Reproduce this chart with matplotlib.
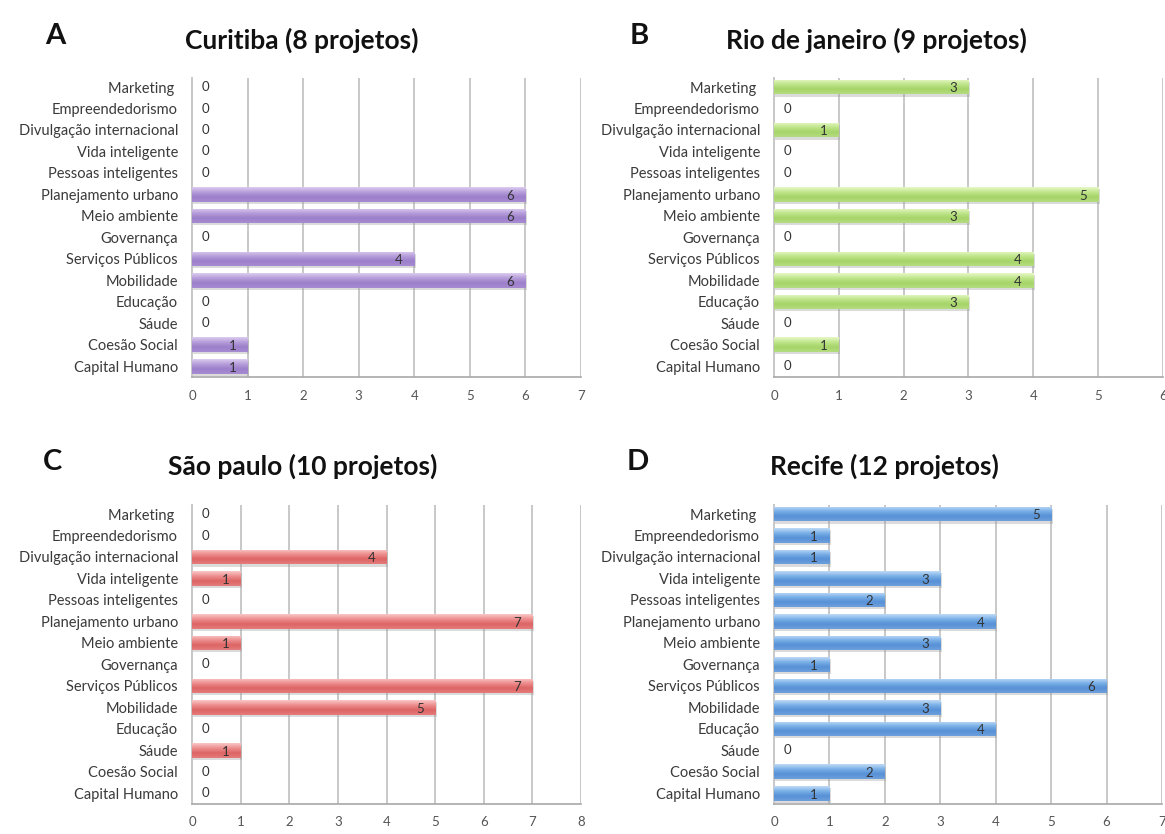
import numpy as np
import matplotlib
matplotlib.use("Agg")
import matplotlib.pyplot as plt
from matplotlib.colors import LinearSegmentedColormap
from matplotlib.transforms import ScaledTranslation

plt.rcParams["font.family"] = ["Lato", "DejaVu Sans"]

categories = [
    "Marketing ", "Empreendedorismo", "Divulgação internacional", "Vida inteligente",
    "Pessoas inteligentes", "Planejamento urbano", "Meio ambiente", "Governança",
    "Serviços Públicos", "Mobilidade", "Educação", "Sáude", "Coesão Social", "Capital Humano",
]

curitiba = [0, 0, 0, 0, 0, 6, 6, 0, 4, 6, 0, 0, 1, 1]
rio = [3, 0, 1, 0, 0, 5, 3, 0, 4, 4, 3, 0, 1, 0]
sao_paulo = [0, 0, 4, 1, 0, 7, 1, 0, 7, 5, 0, 1, 0, 0]
recife = [5, 1, 1, 3, 2, 4, 3, 1, 6, 3, 4, 0, 2, 1]

titles = ["Curitiba (8 projetos)", "Rio de janeiro (9 projetos)",
          "São paulo (10 projetos)", "Recife (12 projetos)"]
letters = ["A", "B", "C", "D"]
xmax = [7, 6, 8, 7]

# light top -> base -> darker -> slightly lighter bottom edge
palettes = [
    ["#dccdf0", "#b69dda", "#9c7fca", "#a88cd2"],
    ["#e8f8c8", "#c0e68c", "#a6d468", "#b4dc80"],
    ["#f9c8c8", "#ee8e8e", "#dd6464", "#e47c7c"],
    ["#c0dbf5", "#7ab0e7", "#5690d6", "#6ea0dc"],
]

# figure-pixel layout: axes box (left, right, top, bottom), title centre, letter position
W, H = 1165, 834
boxes = [(192, 581, 78, 377), (774, 1163, 78, 377),
         (192, 581, 505, 804), (774, 1162, 505, 804)]
title_pos = [(302, 40), (876, 40), (303, 466), (884, 466)]
letter_pos = [(55, 36), (639, 36), (53, 462), (638, 462)]


def gradient_bars(ax, bars, colors):
    cmap = LinearSegmentedColormap.from_list("g", colors)
    grad = np.linspace(0, 1, 64).reshape(-1, 1)
    for b in bars:
        if b.get_width() <= 0:
            continue
        x, y = b.get_x(), b.get_y()
        w, h = b.get_width(), b.get_height()
        b.set_facecolor("none")
        im = ax.imshow(grad, cmap=cmap, aspect="auto", origin="upper",
                       extent=(x, x + w, y, y + h), zorder=3, interpolation="bicubic")
        im.set_clip_path(b)


series = [curitiba, rio, sao_paulo, recife]
ypos = np.arange(len(categories))[::-1]

fig = plt.figure(figsize=(W / 100, H / 100), dpi=100)

for i, vals in enumerate(series):
    l, r, t, btm = boxes[i]
    ax = fig.add_axes([l / W, 1 - btm / H, (r - l) / W, (btm - t) / H])

    # soft drop shadow under each bar
    shadow = ax.transData + ScaledTranslation(1 / 72, -1.6 / 72, fig.dpi_scale_trans)
    ax.barh(ypos, vals, height=0.68, color="#9a9a9a", alpha=0.35,
            edgecolor="none", zorder=2, transform=shadow)

    bars = ax.barh(ypos, vals, height=0.68, color="none", edgecolor="none", zorder=3)
    gradient_bars(ax, bars, palettes[i])

    for y, v in zip(ypos, vals):
        if v > 0:
            ax.annotate(str(v), (v, y), xytext=(-11, -1), textcoords="offset points",
                        ha="center", va="center", fontsize=9.5, color="#333333", zorder=4)
        else:
            ax.annotate("0", (0, y), xytext=(10, 0), textcoords="offset points",
                        ha="center", va="center", fontsize=9.5, color="#333333", zorder=4)

    ax.set_xlim(0, xmax[i])
    ax.set_ylim(-0.5, len(categories) - 0.58)
    ax.set_xticks(range(xmax[i] + 1))
    ax.set_yticks(ypos)
    ax.set_yticklabels(categories, fontsize=10.5, color="#3a3a3a")
    ax.tick_params(axis="x", length=0, pad=9, labelsize=9.5, labelcolor="#555555")
    ax.tick_params(axis="y", length=0, pad=10)
    ax.grid(axis="x", color="#c8c8c8", linewidth=1.4, zorder=0)
    for side in ["top", "right"]:
        ax.spines[side].set_visible(False)
    ax.spines["left"].set_color("#c8c8c8")
    ax.spines["left"].set_linewidth(1.4)
    ax.spines["bottom"].set_color("#a8a8a8")
    ax.spines["bottom"].set_linewidth(1.2)

    tx, ty = title_pos[i]
    fig.text(tx / W, 1 - ty / H, titles[i], ha="center", va="center",
             fontsize=19, fontweight="bold", color="#111111")
    lx, ly = letter_pos[i]
    fig.text(lx / W, 1 - ly / H, letters[i], ha="center", va="center",
             fontsize=21, fontweight="bold", color="#111111")

fig.savefig("out.png", dpi=100)
